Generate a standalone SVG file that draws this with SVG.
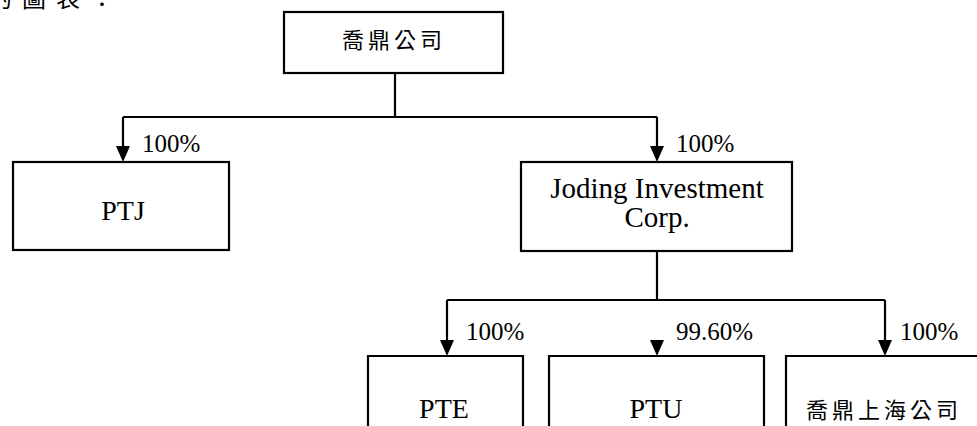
<svg xmlns="http://www.w3.org/2000/svg" width="977" height="426" viewBox="0 0 977 426">
<style>
.box{fill:#fff;stroke:#000;stroke-width:2.2}
.ln{fill:none;stroke:#000;stroke-width:2.2}
.lat{font-family:"Liberation Serif","Times New Roman",serif;fill:#000}
.cjk{font-family:"Noto Sans CJK TC","Noto Sans CJK SC",sans-serif;fill:#000;font-size:22px;letter-spacing:4px}
.pct{font-size:25px}
.nm{font-size:28px}
</style>
<defs>
<marker id="ar" viewBox="0 0 14 16" refX="7" refY="16" markerWidth="14" markerHeight="16" markerUnits="userSpaceOnUse" orient="auto-start-reverse">
<path d="M0,0 L14,0 L7,16 Z" fill="#000"/>
</marker>
</defs>
<rect width="977" height="426" fill="#fff"/>
<text class="cjk" x="-12" y="7" style="font-size:24px;letter-spacing:10px">的圖表：</text>
<g id="connectors">
<path class="ln" d="M395,73 V117"/>
<path class="ln" d="M123,117 H657"/>
<path class="ln" d="M123,117 V147"/>
<path class="ln" d="M657,117 V147"/>
<path d="M116,146 L130,146 L123,162 Z"/>
<path d="M650,146 L664,146 L657,162 Z"/>
<path class="ln" d="M657,251 V300"/>
<path class="ln" d="M447,300 H885"/>
<path class="ln" d="M447,300 V341"/>
<path class="ln" d="M885,300 V341"/>
<path d="M440,340 L454,340 L447,356 Z"/>
<path d="M650,340 L664,340 L657,356 Z"/>
<path d="M878,340 L892,340 L885,356 Z"/>
<text class="lat pct" x="142" y="152">100%</text>
<text class="lat pct" x="676" y="152">100%</text>
<text class="lat pct" x="466" y="340">100%</text>
<text class="lat pct" x="676" y="340">99.60%</text>
<text class="lat pct" x="900" y="340">100%</text>
</g>
<g id="node-top">
<rect class="box" x="284" y="12" width="219" height="61"/>
<text class="cjk" x="342" y="48">喬鼎公司</text>
</g>
<g id="node-ptj">
<rect class="box" x="13" y="162" width="216" height="88"/>
<text class="lat nm" x="123" y="220" text-anchor="middle">PTJ</text>
</g>
<g id="node-joding">
<rect class="box" x="521" y="162" width="271" height="89"/>
<text class="lat nm" x="657" y="198" text-anchor="middle" style="font-size:29px">Joding Investment</text>
<text class="lat nm" x="657" y="227" text-anchor="middle" style="font-size:29px">Corp.</text>
</g>
<g id="node-pte">
<path class="ln" d="M368,430 V356 H523 V430"/>
<text class="lat nm" x="444" y="418" text-anchor="middle">PTE</text>
</g>
<g id="node-ptu">
<path class="ln" d="M549,430 V356 H764 V430"/>
<text class="lat nm" x="656" y="418" text-anchor="middle">PTU</text>
</g>
<g id="node-shanghai">
<path class="ln" d="M786,430 V356 H980"/>
<text class="cjk" x="806" y="418">喬鼎上海公司</text>
</g>
</svg>
